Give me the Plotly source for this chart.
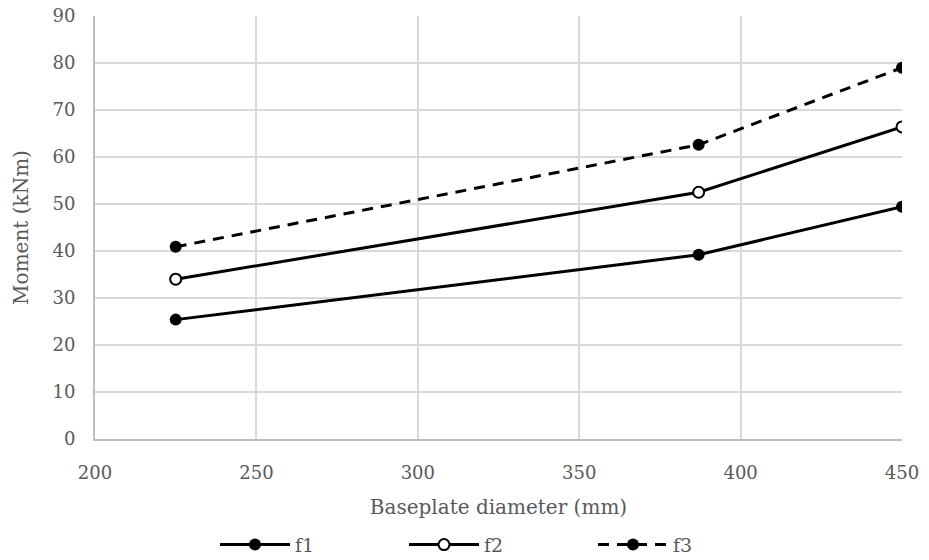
import plotly.graph_objects as go

# Baseplate diameter (mm) and moment (kNm) for each series
diameters = [225, 387, 450]
f1 = [25.4, 39.2, 49.4]
f2 = [34.0, 52.5, 66.4]
f3 = [40.9, 62.6, 79.0]

x_ticks = [200, 250, 300, 350, 400, 450]
y_ticks = [0, 10, 20, 30, 40, 50, 60, 70, 80, 90]

FONT = "Georgia, 'DejaVu Serif', serif"
TEXT = "#595959"

fig = go.Figure()
fig.add_trace(go.Scatter(
    x=diameters, y=f1, name="f1", mode="lines+markers",
    line=dict(color="black", width=3),
    marker=dict(symbol="circle", size=12, color="black"),
))
fig.add_trace(go.Scatter(
    x=diameters, y=f2, name="f2", mode="lines+markers",
    line=dict(color="black", width=3),
    marker=dict(symbol="circle", size=11, color="white",
                line=dict(color="black", width=2)),
))
fig.add_trace(go.Scatter(
    x=diameters, y=f3, name="f3", mode="lines+markers",
    line=dict(color="black", width=3, dash="11px,8px"),
    marker=dict(symbol="circle", size=12, color="black"),
))

fig.update_layout(
    width=929, height=560,
    margin=dict(l=95, r=27, t=16, b=121, autoexpand=False),
    paper_bgcolor="white", plot_bgcolor="white",
    font=dict(family=FONT, size=18, color=TEXT),
    showlegend=True,
    legend=dict(
        orientation="h", x=0.5, xanchor="center", y=-0.205, yanchor="top",
        font=dict(family=FONT, size=19, color=TEXT),
        itemwidth=70, entrywidth=104, traceorder="normal",
    ),
    xaxis=dict(
        range=[200, 450], tickvals=x_ticks, ticktext=[str(v) for v in x_ticks],
        showgrid=True, gridcolor="#d9d9d9", gridwidth=1.5,
        showline=True, linecolor="#bfbfbf", linewidth=2,
        zeroline=False, ticks="", ticklabelstandoff=16,
        title=dict(text="Baseplate diameter (mm)", standoff=18,
                   font=dict(family=FONT, size=20, color=TEXT)),
        tickfont=dict(family=FONT, size=18, color=TEXT),
    ),
    yaxis=dict(
        range=[0, 90], tickvals=y_ticks, ticktext=[str(v) for v in y_ticks],
        showgrid=True, gridcolor="#d9d9d9", gridwidth=1.5,
        showline=True, linecolor="#bfbfbf", linewidth=2,
        zeroline=False, ticks="", ticklabelstandoff=14,
        title=dict(text="Moment (kNm)", standoff=18,
                   font=dict(family=FONT, size=20, color=TEXT)),
        tickfont=dict(family=FONT, size=18, color=TEXT),
    ),
)

fig.write_html("out.html")
